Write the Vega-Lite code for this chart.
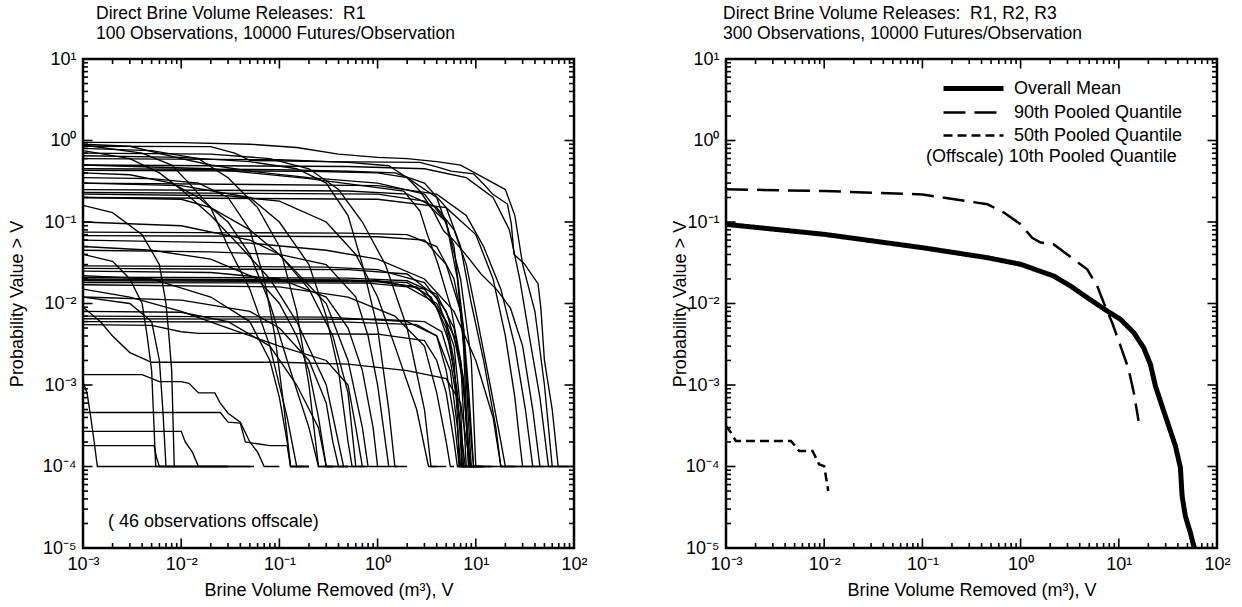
{
"$schema": "https://vega.github.io/schema/vega-lite/v6.json",
"background": "white",
"padding": {"left": 6, "top": 3, "right": 0, "bottom": 0},
"bounds": "flush",
"spacing": 152,
"datasets": {
"xt": [{"t":0.001},{"t":0.002},{"t":0.003},{"t":0.004},{"t":0.005},{"t":0.006},{"t":0.007},{"t":0.008},{"t":0.009},{"t":0.01},{"t":0.02},{"t":0.03},{"t":0.04},{"t":0.05},{"t":0.06},{"t":0.07},{"t":0.08},{"t":0.09},{"t":0.1},{"t":0.2},{"t":0.3},{"t":0.4},{"t":0.5},{"t":0.6},{"t":0.7},{"t":0.8},{"t":0.9},{"t":1},{"t":2},{"t":3},{"t":4},{"t":5},{"t":6},{"t":7},{"t":8},{"t":9},{"t":10},{"t":20},{"t":30},{"t":40},{"t":50},{"t":60},{"t":70},{"t":80},{"t":90},{"t":100}],
"yt": [{"t":1e-5},{"t":2e-5},{"t":3e-5},{"t":4e-5},{"t":5e-5},{"t":6e-5},{"t":7e-5},{"t":8e-5},{"t":9e-5},{"t":1e-4},{"t":2e-4},{"t":3e-4},{"t":4e-4},{"t":5e-4},{"t":6e-4},{"t":7e-4},{"t":8e-4},{"t":9e-4},{"t":0.001},{"t":0.002},{"t":0.003},{"t":0.004},{"t":0.005},{"t":0.006},{"t":0.007},{"t":0.008},{"t":0.009},{"t":0.01},{"t":0.02},{"t":0.03},{"t":0.04},{"t":0.05},{"t":0.06},{"t":0.07},{"t":0.08},{"t":0.09},{"t":0.1},{"t":0.2},{"t":0.3},{"t":0.4},{"t":0.5},{"t":0.6},{"t":0.7},{"t":0.8},{"t":0.9},{"t":1},{"t":2},{"t":3},{"t":4},{"t":5},{"t":6},{"t":7},{"t":8},{"t":9},{"t":10}],
"left": [
{"c":1,"v":0.001,"p":0.85},{"c":1,"v":0.02,"p":0.84},{"c":1,"v":0.035,"p":0.7},{"c":1,"v":0.05,"p":0.57},{"c":1,"v":0.3,"p":0.55},{"c":1,"v":2.7,"p":0.54},{"c":1,"v":4.1,"p":0.47},{"c":1,"v":5.6,"p":0.42},{"c":1,"v":9.5,"p":0.39},{"c":1,"v":12.6,"p":0.275},{"c":1,"v":14.8,"p":0.22},{"c":1,"v":21,"p":0.166},{"c":1,"v":23,"p":0.095},{"c":1,"v":24.5,"p":0.04},{"c":1,"v":31,"p":0.031},{"c":1,"v":43,"p":0.0175},{"c":1,"v":46,"p":0.0087},{"c":1,"v":50,"p":0.002},{"c":1,"v":60,"p":0.0005},{"c":1,"v":69,"p":0.0001},{"c":1,"v":100,"p":0.0001},
{"c":2,"v":0.001,"p":0.95},{"c":2,"v":0.01,"p":0.94},{"c":2,"v":0.05,"p":0.9},{"c":2,"v":0.15,"p":0.82},{"c":2,"v":0.4,"p":0.68},{"c":2,"v":1,"p":0.62},{"c":2,"v":2,"p":0.6},{"c":2,"v":4,"p":0.55},{"c":2,"v":7,"p":0.5},{"c":2,"v":12,"p":0.35},{"c":2,"v":20,"p":0.25},{"c":2,"v":25,"p":0.12},{"c":2,"v":30,"p":0.03},{"c":2,"v":40,"p":0.008},{"c":2,"v":50,"p":0.001},{"c":2,"v":60,"p":0.0001},{"c":2,"v":85,"p":0.0001},
{"c":3,"v":0.001,"p":0.9},{"c":3,"v":0.003,"p":0.85},{"c":3,"v":0.01,"p":0.6},{"c":3,"v":0.02,"p":0.5},{"c":3,"v":0.05,"p":0.42},{"c":3,"v":0.2,"p":0.35},{"c":3,"v":1,"p":0.3},{"c":3,"v":3,"p":0.22},{"c":3,"v":5,"p":0.1},{"c":3,"v":7,"p":0.02},{"c":3,"v":9,"p":0.002},{"c":3,"v":10,"p":0.0001},{"c":3,"v":14,"p":0.0001},
{"c":4,"v":0.001,"p":0.8},{"c":4,"v":0.005,"p":0.75},{"c":4,"v":0.015,"p":0.6},{"c":4,"v":0.03,"p":0.35},{"c":4,"v":0.06,"p":0.15},{"c":4,"v":0.1,"p":0.05},{"c":4,"v":0.15,"p":0.008},{"c":4,"v":0.2,"p":0.001},{"c":4,"v":0.25,"p":0.0001},{"c":4,"v":0.5,"p":0.0001},
{"c":5,"v":0.001,"p":0.75},{"c":5,"v":0.003,"p":0.6},{"c":5,"v":0.006,"p":0.4},{"c":5,"v":0.01,"p":0.25},{"c":5,"v":0.02,"p":0.12},{"c":5,"v":0.04,"p":0.05},{"c":5,"v":0.08,"p":0.02},{"c":5,"v":0.15,"p":0.006},{"c":5,"v":0.3,"p":0.001},{"c":5,"v":0.45,"p":0.0001},{"c":5,"v":0.6,"p":0.0001},
{"c":6,"v":0.001,"p":0.65},{"c":6,"v":0.01,"p":0.62},{"c":6,"v":0.05,"p":0.55},{"c":6,"v":0.15,"p":0.45},{"c":6,"v":0.3,"p":0.3},{"c":6,"v":0.5,"p":0.12},{"c":6,"v":0.7,"p":0.03},{"c":6,"v":1,"p":0.005},{"c":6,"v":1.3,"p":0.0005},{"c":6,"v":1.5,"p":0.0001},{"c":6,"v":2,"p":0.0001},
{"c":7,"v":0.001,"p":0.6},{"c":7,"v":0.1,"p":0.58},{"c":7,"v":0.5,"p":0.54},{"c":7,"v":1.3,"p":0.49},{"c":7,"v":2,"p":0.35},{"c":7,"v":2.7,"p":0.24},{"c":7,"v":3.7,"p":0.136},{"c":7,"v":4.7,"p":0.078},{"c":7,"v":6,"p":0.059},{"c":7,"v":8.3,"p":0.037},{"c":7,"v":11.3,"p":0.023},{"c":7,"v":16.6,"p":0.0145},{"c":7,"v":22.6,"p":0.0087},{"c":7,"v":30,"p":0.003},{"c":7,"v":38,"p":0.0005},{"c":7,"v":45,"p":0.0001},{"c":7,"v":60,"p":0.0001},
{"c":8,"v":0.001,"p":0.5},{"c":8,"v":0.02,"p":0.45},{"c":8,"v":0.2,"p":0.34},{"c":8,"v":1.85,"p":0.24},{"c":8,"v":2.7,"p":0.136},{"c":8,"v":3.2,"p":0.071},{"c":8,"v":4.1,"p":0.031},{"c":8,"v":5.6,"p":0.0087},{"c":8,"v":7,"p":0.002},{"c":8,"v":8,"p":0.0001},{"c":8,"v":12,"p":0.0001},
{"c":9,"v":0.001,"p":0.88},{"c":9,"v":0.004,"p":0.7},{"c":9,"v":0.008,"p":0.5},{"c":9,"v":0.012,"p":0.3},{"c":9,"v":0.02,"p":0.15},{"c":9,"v":0.03,"p":0.05},{"c":9,"v":0.05,"p":0.015},{"c":9,"v":0.08,"p":0.003},{"c":9,"v":0.12,"p":0.0004},{"c":9,"v":0.15,"p":0.0001},{"c":9,"v":0.2,"p":0.0001},
{"c":10,"v":0.001,"p":0.7},{"c":10,"v":0.02,"p":0.68},{"c":10,"v":0.08,"p":0.6},{"c":10,"v":0.2,"p":0.45},{"c":10,"v":0.4,"p":0.25},{"c":10,"v":0.7,"p":0.1},{"c":10,"v":1.2,"p":0.03},{"c":10,"v":2,"p":0.005},{"c":10,"v":3,"p":0.0005},{"c":10,"v":3.5,"p":0.0001},{"c":10,"v":5,"p":0.0001},
{"c":11,"v":0.001,"p":0.45},{"c":11,"v":0.1,"p":0.44},{"c":11,"v":0.5,"p":0.42},{"c":11,"v":1.5,"p":0.4},{"c":11,"v":3,"p":0.3},{"c":11,"v":5,"p":0.15},{"c":11,"v":7,"p":0.05},{"c":11,"v":9,"p":0.01},{"c":11,"v":12,"p":0.002},{"c":11,"v":16,"p":0.0003},{"c":11,"v":18,"p":0.0001},{"c":11,"v":25,"p":0.0001},
{"c":12,"v":0.001,"p":0.43},{"c":12,"v":0.2,"p":0.42},{"c":12,"v":1,"p":0.4},{"c":12,"v":2,"p":0.35},{"c":12,"v":4,"p":0.2},{"c":12,"v":6,"p":0.05},{"c":12,"v":7.5,"p":0.005},{"c":12,"v":8.5,"p":0.0003},{"c":12,"v":9,"p":0.0001},{"c":12,"v":10,"p":0.0001},
{"c":13,"v":0.001,"p":0.4},{"c":13,"v":0.003,"p":0.38},{"c":13,"v":0.008,"p":0.3},{"c":13,"v":0.015,"p":0.2},{"c":13,"v":0.03,"p":0.1},{"c":13,"v":0.05,"p":0.04},{"c":13,"v":0.08,"p":0.01},{"c":13,"v":0.12,"p":0.002},{"c":13,"v":0.2,"p":0.0003},{"c":13,"v":0.25,"p":0.0001},{"c":13,"v":0.35,"p":0.0001},
{"c":14,"v":0.001,"p":0.25},{"c":14,"v":0.5,"p":0.24},{"c":14,"v":2,"p":0.22},{"c":14,"v":4,"p":0.15},{"c":14,"v":6,"p":0.08},{"c":14,"v":8,"p":0.03},{"c":14,"v":10,"p":0.008},{"c":14,"v":14,"p":0.001},{"c":14,"v":18,"p":0.0002},{"c":14,"v":20,"p":0.0001},{"c":14,"v":30,"p":0.0001},
{"c":15,"v":0.001,"p":0.23},{"c":15,"v":1,"p":0.22},{"c":15,"v":3,"p":0.18},{"c":15,"v":5,"p":0.1},{"c":15,"v":6.5,"p":0.02},{"c":15,"v":7.5,"p":0.003},{"c":15,"v":8,"p":0.0005},{"c":15,"v":8.5,"p":0.0001},{"c":15,"v":9,"p":0.0001},
{"c":16,"v":0.001,"p":0.22},{"c":16,"v":0.03,"p":0.21},{"c":16,"v":0.1,"p":0.18},{"c":16,"v":0.3,"p":0.1},{"c":16,"v":0.6,"p":0.04},{"c":16,"v":1,"p":0.012},{"c":16,"v":1.5,"p":0.003},{"c":16,"v":2.5,"p":0.0005},{"c":16,"v":3.3,"p":0.0001},{"c":16,"v":4,"p":0.0001},
{"c":17,"v":0.001,"p":0.2},{"c":17,"v":0.01,"p":0.19},{"c":17,"v":0.02,"p":0.15},{"c":17,"v":0.05,"p":0.08},{"c":17,"v":0.1,"p":0.04},{"c":17,"v":0.2,"p":0.015},{"c":17,"v":0.35,"p":0.004},{"c":17,"v":0.5,"p":0.0008},{"c":17,"v":0.6,"p":0.0001},{"c":17,"v":0.8,"p":0.0001},
{"c":18,"v":0.001,"p":0.16},{"c":18,"v":0.002,"p":0.13},{"c":18,"v":0.004,"p":0.07},{"c":18,"v":0.006,"p":0.03},{"c":18,"v":0.007,"p":0.01},{"c":18,"v":0.0075,"p":0.004},{"c":18,"v":0.008,"p":0.0015},{"c":18,"v":0.0085,"p":0.0001},{"c":18,"v":0.03,"p":0.0001},
{"c":19,"v":0.001,"p":0.075},{"c":19,"v":0.5,"p":0.073},{"c":19,"v":2,"p":0.07},{"c":19,"v":4,"p":0.05},{"c":19,"v":6,"p":0.02},{"c":19,"v":7.5,"p":0.005},{"c":19,"v":8.5,"p":0.0008},{"c":19,"v":9.5,"p":0.0001},{"c":19,"v":12,"p":0.0001},
{"c":20,"v":0.001,"p":0.068},{"c":20,"v":1,"p":0.066},{"c":20,"v":3,"p":0.06},{"c":20,"v":5,"p":0.03},{"c":20,"v":7,"p":0.008},{"c":20,"v":8,"p":0.0015},{"c":20,"v":9,"p":0.0002},{"c":20,"v":9.5,"p":0.0001},{"c":20,"v":15,"p":0.0001},
{"c":21,"v":0.001,"p":0.06},{"c":21,"v":0.05,"p":0.055},{"c":21,"v":0.3,"p":0.045},{"c":21,"v":1,"p":0.035},{"c":21,"v":3,"p":0.02},{"c":21,"v":6,"p":0.008},{"c":21,"v":10,"p":0.002},{"c":21,"v":15,"p":0.0004},{"c":21,"v":18,"p":0.0001},{"c":21,"v":40,"p":0.0001},
{"c":22,"v":0.001,"p":0.05},{"c":22,"v":0.005,"p":0.045},{"c":22,"v":0.02,"p":0.035},{"c":22,"v":0.06,"p":0.02},{"c":22,"v":0.1,"p":0.01},{"c":22,"v":0.15,"p":0.004},{"c":22,"v":0.2,"p":0.0015},{"c":22,"v":0.25,"p":0.0004},{"c":22,"v":0.3,"p":0.0001},{"c":22,"v":0.35,"p":0.0001},
{"c":23,"v":0.001,"p":0.045},{"c":23,"v":0.02,"p":0.043},{"c":23,"v":0.1,"p":0.04},{"c":23,"v":0.3,"p":0.03},{"c":23,"v":0.6,"p":0.012},{"c":23,"v":0.8,"p":0.004},{"c":23,"v":1,"p":0.001},{"c":23,"v":1.2,"p":0.0002},{"c":23,"v":1.3,"p":0.0001},{"c":23,"v":1.6,"p":0.0001},
{"c":24,"v":0.001,"p":0.04},{"c":24,"v":0.002,"p":0.033},{"c":24,"v":0.003,"p":0.02},{"c":24,"v":0.004,"p":0.01},{"c":24,"v":0.0045,"p":0.004},{"c":24,"v":0.005,"p":0.0015},{"c":24,"v":0.0055,"p":0.0001},{"c":24,"v":0.05,"p":0.0001},
{"c":25,"v":0.001,"p":0.029},{"c":25,"v":0.3,"p":0.028},{"c":25,"v":1,"p":0.026},{"c":25,"v":3,"p":0.018},{"c":25,"v":5,"p":0.008},{"c":25,"v":7,"p":0.002},{"c":25,"v":8,"p":0.0004},{"c":25,"v":8.8,"p":0.0001},{"c":25,"v":10,"p":0.0001},
{"c":26,"v":0.001,"p":0.027},{"c":26,"v":0.5,"p":0.026},{"c":26,"v":2,"p":0.023},{"c":26,"v":4,"p":0.012},{"c":26,"v":6,"p":0.003},{"c":26,"v":7,"p":0.0005},{"c":26,"v":7.5,"p":0.0001},{"c":26,"v":8,"p":0.0001},
{"c":27,"v":0.001,"p":0.025},{"c":27,"v":0.02,"p":0.024},{"c":27,"v":0.1,"p":0.02},{"c":27,"v":0.3,"p":0.012},{"c":27,"v":0.5,"p":0.005},{"c":27,"v":0.7,"p":0.0015},{"c":27,"v":0.9,"p":0.0003},{"c":27,"v":1,"p":0.0001},{"c":27,"v":1.3,"p":0.0001},
{"c":28,"v":0.001,"p":0.02},{"c":28,"v":0.5,"p":0.0195},{"c":28,"v":2,"p":0.018},{"c":28,"v":3.5,"p":0.012},{"c":28,"v":5,"p":0.005},{"c":28,"v":6,"p":0.0015},{"c":28,"v":7,"p":0.0003},{"c":28,"v":7.3,"p":0.0001},{"c":28,"v":8,"p":0.0001},
{"c":29,"v":0.001,"p":0.019},{"c":29,"v":1,"p":0.0185},{"c":29,"v":2.5,"p":0.016},{"c":29,"v":4,"p":0.009},{"c":29,"v":5.5,"p":0.003},{"c":29,"v":6.5,"p":0.0008},{"c":29,"v":7,"p":0.0002},{"c":29,"v":7.2,"p":0.0001},{"c":29,"v":9,"p":0.0001},
{"c":30,"v":0.001,"p":0.018},{"c":30,"v":0.8,"p":0.0178},{"c":30,"v":2,"p":0.016},{"c":30,"v":4,"p":0.01},{"c":30,"v":6,"p":0.004},{"c":30,"v":7.5,"p":0.001},{"c":30,"v":8.3,"p":0.0002},{"c":30,"v":8.6,"p":0.0001},{"c":30,"v":11,"p":0.0001},
{"c":31,"v":0.001,"p":0.017},{"c":31,"v":0.1,"p":0.016},{"c":31,"v":0.5,"p":0.012},{"c":31,"v":1.5,"p":0.007},{"c":31,"v":3,"p":0.003},{"c":31,"v":4,"p":0.0008},{"c":31,"v":5,"p":0.0002},{"c":31,"v":5.5,"p":0.0001},{"c":31,"v":6,"p":0.0001},
{"c":32,"v":0.001,"p":0.022},{"c":32,"v":0.005,"p":0.02},{"c":32,"v":0.02,"p":0.012},{"c":32,"v":0.05,"p":0.006},{"c":32,"v":0.08,"p":0.002},{"c":32,"v":0.1,"p":0.0007},{"c":32,"v":0.12,"p":0.0002},{"c":32,"v":0.13,"p":0.0001},{"c":32,"v":0.2,"p":0.0001},
{"c":33,"v":0.001,"p":0.015},{"c":33,"v":0.003,"p":0.012},{"c":33,"v":0.01,"p":0.008},{"c":33,"v":0.03,"p":0.005},{"c":33,"v":0.1,"p":0.003},{"c":33,"v":0.3,"p":0.002},{"c":33,"v":0.5,"p":0.001},{"c":33,"v":0.6,"p":0.0003},{"c":33,"v":0.7,"p":0.0001},{"c":33,"v":0.75,"p":0.0001},
{"c":34,"v":0.001,"p":0.0065},{"c":34,"v":1,"p":0.0064},{"c":34,"v":3,"p":0.006},{"c":34,"v":4.5,"p":0.0045},{"c":34,"v":5.5,"p":0.002},{"c":34,"v":6.5,"p":0.0006},{"c":34,"v":7.5,"p":0.00015},{"c":34,"v":7.8,"p":0.0001},{"c":34,"v":9,"p":0.0001},
{"c":35,"v":0.001,"p":0.006},{"c":35,"v":0.5,"p":0.0059},{"c":35,"v":2.5,"p":0.0055},{"c":35,"v":4,"p":0.004},{"c":35,"v":5,"p":0.0015},{"c":35,"v":6,"p":0.0004},{"c":35,"v":6.8,"p":0.0001},{"c":35,"v":8,"p":0.0001},
{"c":36,"v":0.001,"p":0.0055},{"c":36,"v":0.005,"p":0.0054},{"c":36,"v":0.01,"p":0.0045},{"c":36,"v":0.015,"p":0.0043},{"c":36,"v":0.05,"p":0.0043},{"c":36,"v":1,"p":0.0042},{"c":36,"v":3,"p":0.0035},{"c":36,"v":4,"p":0.002},{"c":36,"v":5,"p":0.0008},{"c":36,"v":6,"p":0.0002},{"c":36,"v":6.5,"p":0.0001},{"c":36,"v":7,"p":0.0001},
{"c":37,"v":0.001,"p":0.009},{"c":37,"v":0.0015,"p":0.006},{"c":37,"v":0.002,"p":0.004},{"c":37,"v":0.003,"p":0.0025},{"c":37,"v":0.005,"p":0.0019},{"c":37,"v":0.1,"p":0.0019},{"c":37,"v":0.5,"p":0.0018},{"c":37,"v":2,"p":0.0015},{"c":37,"v":5,"p":0.0012},{"c":37,"v":7,"p":0.0006},{"c":37,"v":8,"p":0.0002},{"c":37,"v":9,"p":0.0001},{"c":37,"v":20,"p":0.0001},
{"c":38,"v":0.001,"p":0.012},{"c":38,"v":0.003,"p":0.01},{"c":38,"v":0.005,"p":0.006},{"c":38,"v":0.006,"p":0.002},{"c":38,"v":0.0065,"p":0.0005},{"c":38,"v":0.007,"p":0.0001},{"c":38,"v":0.009,"p":0.0001},
{"c":39,"v":0.001,"p":0.008},{"c":39,"v":0.01,"p":0.0078},{"c":39,"v":0.03,"p":0.006},{"c":39,"v":0.08,"p":0.003},{"c":39,"v":0.15,"p":0.001},{"c":39,"v":0.25,"p":0.0003},{"c":39,"v":0.3,"p":0.0001},{"c":39,"v":0.5,"p":0.0001},
{"c":40,"v":0.001,"p":0.00134},{"c":40,"v":0.004,"p":0.00134},{"c":40,"v":0.006,"p":0.0011},{"c":40,"v":0.01,"p":0.0011},{"c":40,"v":0.012,"p":0.00105},{"c":40,"v":0.015,"p":0.0008},{"c":40,"v":0.022,"p":0.0008},{"c":40,"v":0.025,"p":0.0006},{"c":40,"v":0.03,"p":0.00045},{"c":40,"v":0.04,"p":0.00035},{"c":40,"v":0.05,"p":0.0002},{"c":40,"v":0.06,"p":0.00015},{"c":40,"v":0.07,"p":0.0001},{"c":40,"v":0.1,"p":0.0001},
{"c":41,"v":0.001,"p":0.0011},{"c":41,"v":0.0011,"p":0.0008},{"c":41,"v":0.0012,"p":0.0004},{"c":41,"v":0.0013,"p":0.0002},{"c":41,"v":0.0014,"p":0.0001},{"c":41,"v":0.055,"p":0.0001},
{"c":42,"v":0.001,"p":0.00046},{"c":42,"v":0.025,"p":0.00046},{"c":42,"v":0.03,"p":0.00035},{"c":42,"v":0.04,"p":0.00034},{"c":42,"v":0.045,"p":0.0002},{"c":42,"v":0.08,"p":0.00018},{"c":42,"v":0.12,"p":0.00018},{"c":42,"v":0.13,"p":0.0001},{"c":42,"v":0.2,"p":0.0001},
{"c":43,"v":0.001,"p":0.00027},{"c":43,"v":0.01,"p":0.00027},{"c":43,"v":0.011,"p":0.0002},{"c":43,"v":0.013,"p":0.00015},{"c":43,"v":0.015,"p":0.0001},{"c":43,"v":0.03,"p":0.0001},
{"c":44,"v":0.001,"p":0.00018},{"c":44,"v":0.0053,"p":0.00018},{"c":44,"v":0.0056,"p":0.00013},{"c":44,"v":0.006,"p":0.0001},{"c":44,"v":0.008,"p":0.0001},
{"c":45,"v":0.001,"p":0.3},{"c":45,"v":0.01,"p":0.28},{"c":45,"v":0.05,"p":0.2},{"c":45,"v":0.1,"p":0.1},{"c":45,"v":0.2,"p":0.03},{"c":45,"v":0.3,"p":0.007},{"c":45,"v":0.4,"p":0.0015},{"c":45,"v":0.5,"p":0.0002},{"c":45,"v":0.55,"p":0.0001},{"c":45,"v":0.7,"p":0.0001},
{"c":46,"v":0.001,"p":0.1},{"c":46,"v":0.01,"p":0.09},{"c":46,"v":0.05,"p":0.06},{"c":46,"v":0.1,"p":0.04},{"c":46,"v":0.3,"p":0.01},{"c":46,"v":0.5,"p":0.002},{"c":46,"v":0.7,"p":0.0003},{"c":46,"v":0.8,"p":0.0001},{"c":46,"v":1,"p":0.0001},
{"c":47,"v":0.001,"p":0.012},{"c":47,"v":0.01,"p":0.011},{"c":47,"v":0.05,"p":0.008},{"c":47,"v":0.1,"p":0.005},{"c":47,"v":0.2,"p":0.002},{"c":47,"v":0.3,"p":0.0006},{"c":47,"v":0.35,"p":0.0002},{"c":47,"v":0.4,"p":0.0001},{"c":47,"v":0.45,"p":0.0001},
{"c":48,"v":0.001,"p":0.5},{"c":48,"v":0.5,"p":0.48},{"c":48,"v":3,"p":0.45},{"c":48,"v":8,"p":0.35},{"c":48,"v":15,"p":0.2},{"c":48,"v":22,"p":0.08},{"c":48,"v":28,"p":0.02},{"c":48,"v":35,"p":0.004},{"c":48,"v":45,"p":0.0007},{"c":48,"v":55,"p":0.0001},{"c":48,"v":80,"p":0.0001},
{"c":49,"v":0.001,"p":0.3},{"c":49,"v":1,"p":0.28},{"c":49,"v":4,"p":0.22},{"c":49,"v":8,"p":0.12},{"c":49,"v":12,"p":0.05},{"c":49,"v":18,"p":0.015},{"c":49,"v":25,"p":0.003},{"c":49,"v":32,"p":0.0005},{"c":49,"v":38,"p":0.0001},{"c":49,"v":45,"p":0.0001},
{"c":50,"v":0.001,"p":0.2},{"c":50,"v":1,"p":0.19},{"c":50,"v":5,"p":0.15},{"c":50,"v":10,"p":0.07},{"c":50,"v":15,"p":0.02},{"c":50,"v":20,"p":0.004},{"c":50,"v":25,"p":0.0007},{"c":50,"v":28,"p":0.0002},{"c":50,"v":30,"p":0.0001},{"c":50,"v":50,"p":0.0001},
{"c":51,"v":0.001,"p":0.0195},{"c":51,"v":1,"p":0.019},{"c":51,"v":3,"p":0.015},{"c":51,"v":5,"p":0.006},{"c":51,"v":6,"p":0.002},{"c":51,"v":6.5,"p":0.0004},{"c":51,"v":6.8,"p":0.0001},{"c":51,"v":7.5,"p":0.0001},
{"c":52,"v":0.001,"p":0.021},{"c":52,"v":0.5,"p":0.0205},{"c":52,"v":2,"p":0.019},{"c":52,"v":4,"p":0.013},{"c":52,"v":6,"p":0.005},{"c":52,"v":7.5,"p":0.0012},{"c":52,"v":8.2,"p":0.0002},{"c":52,"v":8.4,"p":0.0001},{"c":52,"v":9,"p":0.0001},
{"c":53,"v":0.001,"p":0.007},{"c":53,"v":0.3,"p":0.0068},{"c":53,"v":2,"p":0.006},{"c":53,"v":4,"p":0.004},{"c":53,"v":5.5,"p":0.0015},{"c":53,"v":6.5,"p":0.0003},{"c":53,"v":7,"p":0.0001},{"c":53,"v":8,"p":0.0001},
{"c":54,"v":0.001,"p":0.35},{"c":54,"v":0.005,"p":0.34},{"c":54,"v":0.015,"p":0.3},{"c":54,"v":0.03,"p":0.2},{"c":54,"v":0.05,"p":0.08},{"c":54,"v":0.07,"p":0.02},{"c":54,"v":0.09,"p":0.004},{"c":54,"v":0.11,"p":0.0006},{"c":54,"v":0.13,"p":0.0001},{"c":54,"v":0.17,"p":0.0001}
],
"right": [
{"s":"Overall Mean","v":0.001,"p":0.0936},{"s":"Overall Mean","v":0.01,"p":0.0706},{"s":"Overall Mean","v":0.1,"p":0.0484},{"s":"Overall Mean","v":0.458,"p":0.0365},{"s":"Overall Mean","v":1,"p":0.0303},{"s":"Overall Mean","v":2.18,"p":0.0217},{"s":"Overall Mean","v":3.22,"p":0.0164},{"s":"Overall Mean","v":4.77,"p":0.0118},{"s":"Overall Mean","v":7.6,"p":0.0081},{"s":"Overall Mean","v":10.4,"p":0.0064},{"s":"Overall Mean","v":14.2,"p":0.0044},{"s":"Overall Mean","v":17.9,"p":0.00287},{"s":"Overall Mean","v":21,"p":0.00179},{"s":"Overall Mean","v":23.6,"p":0.00097},{"s":"Overall Mean","v":29.8,"p":0.000417},{"s":"Overall Mean","v":37.7,"p":0.000179},{"s":"Overall Mean","v":42.4,"p":0.0000968},{"s":"Overall Mean","v":44.1,"p":0.0000435},{"s":"Overall Mean","v":47.6,"p":0.0000247},{"s":"Overall Mean","v":53.5,"p":0.0000155},{"s":"Overall Mean","v":57.9,"p":0.0000106},{"s":"Overall Mean","v":59,"p":0.00001},
{"s":"90th Pooled Quantile","v":0.001,"p":0.252},{"s":"90th Pooled Quantile","v":0.01,"p":0.24},{"s":"90th Pooled Quantile","v":0.1,"p":0.218},{"s":"90th Pooled Quantile","v":0.46,"p":0.165},{"s":"90th Pooled Quantile","v":0.68,"p":0.13},{"s":"90th Pooled Quantile","v":1,"p":0.094},{"s":"90th Pooled Quantile","v":1.31,"p":0.064},{"s":"90th Pooled Quantile","v":1.6,"p":0.056},{"s":"90th Pooled Quantile","v":2.18,"p":0.053},{"s":"90th Pooled Quantile","v":3.48,"p":0.0348},{"s":"90th Pooled Quantile","v":4.76,"p":0.0263},{"s":"90th Pooled Quantile","v":6.02,"p":0.0164},{"s":"90th Pooled Quantile","v":7.03,"p":0.0102},{"s":"90th Pooled Quantile","v":8.55,"p":0.00582},{"s":"90th Pooled Quantile","v":10.4,"p":0.00302},{"s":"90th Pooled Quantile","v":12.6,"p":0.00156},{"s":"90th Pooled Quantile","v":14.2,"p":0.00081},{"s":"90th Pooled Quantile","v":15.9,"p":0.000363},
{"s":"50th Pooled Quantile","v":0.001,"p":0.000314},{"s":"50th Pooled Quantile","v":0.001125,"p":0.00026},{"s":"50th Pooled Quantile","v":0.00126,"p":0.000206},{"s":"50th Pooled Quantile","v":0.00458,"p":0.000206},{"s":"50th Pooled Quantile","v":0.00557,"p":0.000155},{"s":"50th Pooled Quantile","v":0.0076,"p":0.000155},{"s":"50th Pooled Quantile","v":0.00889,"p":0.000106},{"s":"50th Pooled Quantile","v":0.01,"p":0.000101},{"s":"50th Pooled Quantile","v":0.011,"p":0.00005}
]
},
"hconcat": [
{
"width": 491, "height": 489,
"title": {"text": ["Direct Brine Volume Releases:\u00a0\u00a0R1", "100 Observations, 10000 Futures/Observation"], "dx": 13},
"resolve": {"axis": {"x": "independent", "y": "independent"}},
"layer": [
{
"data": {"name": "left"},
"mark": {"type": "line", "color": "black", "strokeWidth": 1.35, "clip": true},
"encoding": {
"x": {"field": "v", "type": "quantitative", "scale": {"type": "log", "domain": [0.001, 100], "nice": false},
"axis": {"orient": "bottom", "values": [0.001,0.01,0.1,1,10,100], "ticks": false,
"labelExpr": "['10⁻³','10⁻²','10⁻¹','10⁰','10¹','10²'][round(log(datum.value)/LN10)+3]",
"labelPadding": 7, "title": "Brine Volume Removed (m³), V", "titlePadding": 8}},
"y": {"field": "p", "type": "quantitative", "scale": {"type": "log", "domain": [0.00001, 10], "nice": false},
"axis": {"orient": "left", "values": [0.00001,0.0001,0.001,0.01,0.1,1,10], "ticks": false,
"labelExpr": "['10⁻⁵','10⁻⁴','10⁻³','10⁻²','10⁻¹','10⁰','10¹'][round(log(datum.value)/LN10)+5]",
"labelPadding": 7, "title": "Probability Value > V", "titlePadding": 16}},
"detail": {"field": "c", "type": "nominal"}
}
},
{
"data": {"name": "xt"},
"mark": {"type": "tick", "orient": "vertical", "color": "black", "opacity": 1, "thickness": 1.6, "clip": true},
"encoding": {
"x": {"field": "t", "type": "quantitative", "axis": null},
"y": {"datum": 0.00001, "type": "quantitative", "axis": null},
"size": {"condition": {"test": "abs(log(datum.t)/LN10 - round(log(datum.t)/LN10)) < 0.01", "value": 19}, "value": 10}
}
},
{
"data": {"name": "xt"},
"mark": {"type": "tick", "orient": "vertical", "color": "black", "opacity": 1, "thickness": 1.6, "clip": true},
"encoding": {
"x": {"field": "t", "type": "quantitative", "axis": null},
"y": {"datum": 10, "type": "quantitative", "axis": null},
"size": {"condition": {"test": "abs(log(datum.t)/LN10 - round(log(datum.t)/LN10)) < 0.01", "value": 19}, "value": 10}
}
},
{
"data": {"name": "yt"},
"mark": {"type": "tick", "orient": "horizontal", "color": "black", "opacity": 1, "thickness": 1.6, "clip": true},
"encoding": {
"y": {"field": "t", "type": "quantitative", "axis": null},
"x": {"datum": 0.001, "type": "quantitative", "axis": null},
"size": {"condition": {"test": "abs(log(datum.t)/LN10 - round(log(datum.t)/LN10)) < 0.01", "value": 19}, "value": 10}
}
},
{
"data": {"name": "yt"},
"mark": {"type": "tick", "orient": "horizontal", "color": "black", "opacity": 1, "thickness": 1.6, "clip": true},
"encoding": {
"y": {"field": "t", "type": "quantitative", "axis": null},
"x": {"datum": 100, "type": "quantitative", "axis": null},
"size": {"condition": {"test": "abs(log(datum.t)/LN10 - round(log(datum.t)/LN10)) < 0.01", "value": 19}, "value": 10}
}
},
{
"data": {"values": [{}]},
"mark": {"type": "text", "align": "left", "baseline": "middle", "fontSize": 18, "font": "Liberation Sans", "color": "black"},
"encoding": {
"x": {"datum": 0.0018, "type": "quantitative", "axis": null},
"y": {"datum": 0.000021, "type": "quantitative", "axis": null},
"text": {"value": "( 46 observations offscale)"}
}
}
]
},
{
"width": 491, "height": 489,
"title": {"text": ["Direct Brine Volume Releases:\u00a0\u00a0R1, R2, R3", "300 Observations, 10000 Futures/Observation"], "dx": -3},
"resolve": {"axis": {"x": "independent", "y": "independent"}},
"layer": [
{
"data": {"name": "right"},
"mark": {"type": "line", "color": "black", "clip": true},
"encoding": {
"x": {"field": "v", "type": "quantitative", "scale": {"type": "log", "domain": [0.001, 100], "nice": false},
"axis": {"orient": "bottom", "values": [0.001,0.01,0.1,1,10,100], "ticks": false,
"labelExpr": "['10⁻³','10⁻²','10⁻¹','10⁰','10¹','10²'][round(log(datum.value)/LN10)+3]",
"labelPadding": 7, "title": "Brine Volume Removed (m³), V", "titlePadding": 8}},
"y": {"field": "p", "type": "quantitative", "scale": {"type": "log", "domain": [0.00001, 10], "nice": false},
"axis": {"orient": "left", "values": [0.00001,0.0001,0.001,0.01,0.1,1,10], "ticks": false,
"labelExpr": "['10⁻⁵','10⁻⁴','10⁻³','10⁻²','10⁻¹','10⁰','10¹'][round(log(datum.value)/LN10)+5]",
"labelPadding": 7, "title": "Probability Value > V", "titlePadding": -4}},
"strokeDash": {"field": "s", "type": "nominal",
"scale": {"domain": ["Overall Mean", "90th Pooled Quantile", "50th Pooled Quantile", "10th Pooled Quantile"], "range": [[1, 0], [22, 9], [9, 5], [1, 0]]},
"legend": {"orient": "none", "legendX": 898, "legendY": 17, "title": null, "symbolType": "M-5,0H1", "symbolSize": 400, "symbolStrokeColor": "black", "labelOffset": 8, "rowPadding": 2, "padding": 0, "labelLimit": 1000,
"labelExpr": "datum.label == '10th Pooled Quantile' ? '(Offscale)  10th Pooled Quantile' : datum.label",
"encode": {"labels": {"update": {"dx": {"signal": "datum.label == '10th Pooled Quantile' ? -88 : 0"}}}}}},
"strokeWidth": {"field": "s", "type": "ordinal",
"scale": {"type": "ordinal", "domain": ["Overall Mean", "90th Pooled Quantile", "50th Pooled Quantile", "10th Pooled Quantile"], "range": [5, 2.5, 2.5, 0]},
"legend": {"orient": "none", "legendX": 898, "legendY": 17, "title": null, "symbolType": "M-5,0H1", "symbolSize": 400, "symbolStrokeColor": "black", "labelOffset": 8, "rowPadding": 2, "padding": 0, "labelLimit": 1000,
"labelExpr": "datum.label == '10th Pooled Quantile' ? '(Offscale)  10th Pooled Quantile' : datum.label",
"encode": {"labels": {"update": {"dx": {"signal": "datum.label == '10th Pooled Quantile' ? -88 : 0"}}}}}}
}
},
{
"data": {"name": "xt"},
"mark": {"type": "tick", "orient": "vertical", "color": "black", "opacity": 1, "thickness": 1.6, "clip": true},
"encoding": {
"x": {"field": "t", "type": "quantitative", "axis": null},
"y": {"datum": 0.00001, "type": "quantitative", "axis": null},
"size": {"condition": {"test": "abs(log(datum.t)/LN10 - round(log(datum.t)/LN10)) < 0.01", "value": 19}, "value": 10}
}
},
{
"data": {"name": "xt"},
"mark": {"type": "tick", "orient": "vertical", "color": "black", "opacity": 1, "thickness": 1.6, "clip": true},
"encoding": {
"x": {"field": "t", "type": "quantitative", "axis": null},
"y": {"datum": 10, "type": "quantitative", "axis": null},
"size": {"condition": {"test": "abs(log(datum.t)/LN10 - round(log(datum.t)/LN10)) < 0.01", "value": 19}, "value": 10}
}
},
{
"data": {"name": "yt"},
"mark": {"type": "tick", "orient": "horizontal", "color": "black", "opacity": 1, "thickness": 1.6, "clip": true},
"encoding": {
"y": {"field": "t", "type": "quantitative", "axis": null},
"x": {"datum": 0.001, "type": "quantitative", "axis": null},
"size": {"condition": {"test": "abs(log(datum.t)/LN10 - round(log(datum.t)/LN10)) < 0.01", "value": 19}, "value": 10}
}
},
{
"data": {"name": "yt"},
"mark": {"type": "tick", "orient": "horizontal", "color": "black", "opacity": 1, "thickness": 1.6, "clip": true},
"encoding": {
"y": {"field": "t", "type": "quantitative", "axis": null},
"x": {"datum": 100, "type": "quantitative", "axis": null},
"size": {"condition": {"test": "abs(log(datum.t)/LN10 - round(log(datum.t)/LN10)) < 0.01", "value": 19}, "value": 10}
}
}
]
}
],
"config": {
"font": "Liberation Sans",
"view": {"stroke": "black", "strokeWidth": 2.5},
"axis": {"domain": false, "grid": false, "labelFont": "Liberation Sans", "labelFontSize": 18, "labelColor": "black", "titleFont": "Liberation Sans", "titleFontSize": 18, "titleFontWeight": "normal", "titleColor": "black", "labelFlush": false, "labelOverlap": false, "labelBound": false},
"title": {"font": "Liberation Sans", "fontSize": 17.5, "fontWeight": "normal", "color": "black", "anchor": "start", "frame": "group", "lineHeight": 20, "offset": 8},
"legend": {"labelFont": "Liberation Sans", "labelFontSize": 18, "labelColor": "black"}
}
}
